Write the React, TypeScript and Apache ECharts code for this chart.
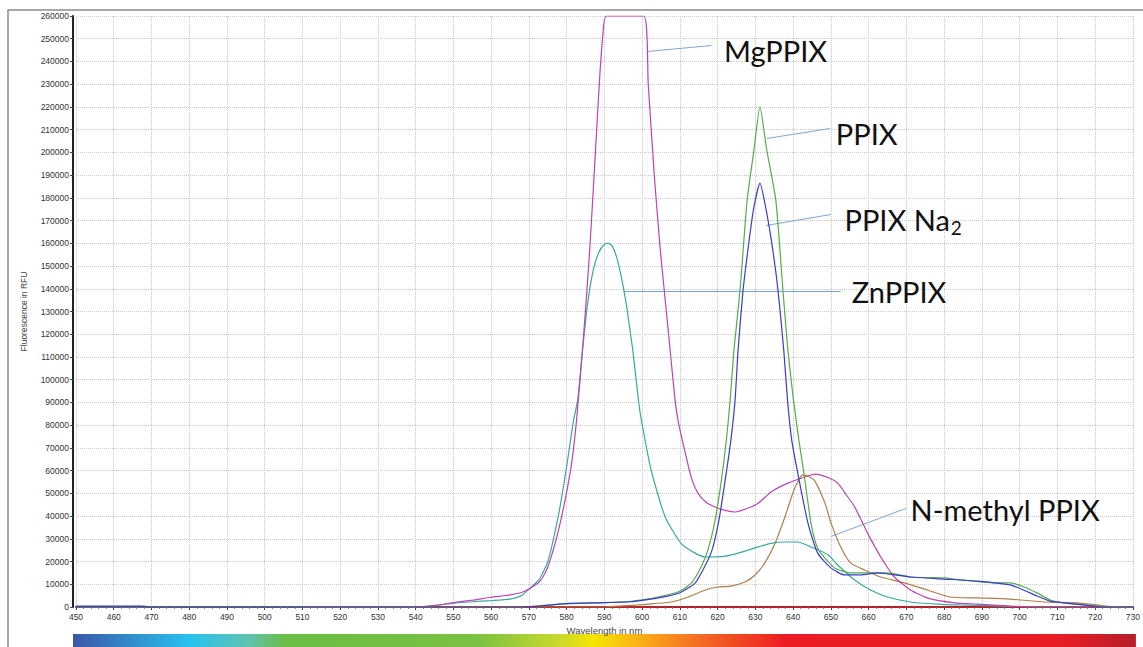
import { useEffect, useRef } from "react";
import * as echarts from "echarts";

// Emission spectra, [wavelength nm, fluorescence RFU]
const mgPPIX: [number, number][] = [
  [450, 0], [540, 0], [545, 600], [550, 1900], [555, 3000], [560, 4300], [565, 5300], [568, 6400],
  [570, 7900], [573, 11500], [575, 17600], [578, 35000], [581, 60000], [582.6, 82000], [584.5, 120000],
  [586.1, 157000], [587.6, 200000], [588.7, 232000], [589.6, 252000], [590.5, 260000], [600.4, 260000],
  [601.6, 230000], [603.2, 190000], [604.8, 157000], [606.7, 125000], [608.7, 91000], [609.5, 82000],
  [611.4, 67800], [613, 57000], [614.8, 50000], [617, 46000], [619.3, 44000], [622, 42500], [624.6, 41800],
  [628.8, 44000], [631, 46000], [634.1, 50600], [638.6, 54500], [643.1, 57200], [645.7, 58500],
  [649.2, 57000], [651.8, 54500], [654, 49500], [656.3, 44000], [659.7, 32500], [663.2, 22000],
  [666.8, 13200], [671.1, 7500], [675.5, 4000], [682.7, 1800], [688.8, 1300], [697.5, 400], [705, 0], [730, 0],
];

const znPPIX: [number, number][] = [
  [450, 0], [540, 0], [545, 700], [550, 1700], [555, 2300], [560, 2800], [565, 3500], [568, 5000],
  [570, 7900], [572.6, 11900], [575, 20000], [578, 42000], [580, 62000], [581.8, 82000], [582.9, 91000],
  [584.2, 113000], [585.5, 133000], [587, 148000], [588.5, 156000], [590, 159600], [591, 160000],
  [592, 159000], [593.2, 154000], [594.5, 145000], [595.8, 133000], [597.5, 113000], [599, 91000],
  [599.8, 82000], [602.4, 60000], [606.1, 39600], [610.3, 28000], [614, 23700], [616.7, 22000], [622, 22400],
  [625.4, 23700], [629.9, 26000], [634.1, 28000], [637.8, 28600], [641.2, 28600], [644.7, 26400],
  [649.2, 23000], [651.8, 18500], [656.3, 11900], [660.5, 7500], [665, 4400], [671, 2200], [678.2, 1300],
  [684.3, 900], [693, 500], [705, 0], [730, 0],
];

const ppix: [number, number][] = [
  [450, 0], [568, 0], [575, 800], [580, 1500], [590, 1900], [597, 2500], [600, 3100], [604.2, 4400],
  [609.5, 6600], [613, 10500], [615.6, 17600], [617.4, 25000], [619.3, 38000], [621, 56000], [622.3, 73500],
  [623.3, 91000], [624.3, 113000], [625.9, 139000], [627.8, 179000], [629.6, 201000], [631.2, 220000],
  [633, 201000], [635.4, 179000], [637.3, 139000], [638.6, 113000], [640, 92000], [641.5, 73500], [643, 57000],
  [644.7, 37000], [646, 28000], [647.3, 23700], [651, 17200], [655.2, 15000], [662.4, 15000], [665, 15000],
  [671.1, 13200], [680, 12800], [684.3, 11900], [693.3, 10600], [697.5, 10600], [701.2, 8800], [704.6, 6200],
  [708.1, 3100], [711.7, 1800], [717, 900], [725, 0], [730, 0],
];

const ppixNa2: [number, number][] = [
  [450, 400], [468, 400], [469, 0], [568, 0], [575, 800], [580, 1500], [590, 1900], [597, 2300], [600, 2900],
  [605, 4200], [610, 6300], [614, 10500], [616.5, 17600], [618.5, 25000], [620.3, 38000], [622, 56000],
  [623.5, 73500], [624.6, 91000], [625.4, 113000], [626.7, 139000], [628, 157000], [629.5, 175000],
  [631.2, 186500], [632.8, 175000], [634.6, 157000], [636, 139000], [637.5, 113000], [638.5, 91000],
  [639.6, 73500], [641.2, 59000], [643.9, 37000], [646.5, 23700], [650, 17200], [653.6, 14100],
  [657.9, 14100], [662.4, 15000], [671, 13200], [680, 12300], [688.8, 11400], [697.5, 9700], [701, 7500],
  [704.6, 4800], [708, 2600], [711.7, 1800], [717, 900], [722, 0], [730, 0],
];

const nMethylPPIX: [number, number][] = [
  [450, 0], [590, 0], [595, 500], [599, 900], [603, 1500], [607.7, 2200], [612.2, 4400], [616.7, 7500],
  [620.1, 8800], [623.5, 9200], [627.2, 11000], [629.9, 14100], [632.5, 19400], [635.2, 28000],
  [637.8, 39600], [640, 50600], [641.5, 56000], [642.5, 58000], [644, 57500], [645.7, 55500],
  [648.4, 45800], [650, 37000], [652.6, 26400], [655.2, 19400], [658.9, 16300], [663.2, 13200],
  [669.5, 10600], [675.5, 7500], [681.6, 4400], [688.8, 4000], [697.5, 3500], [706.5, 2200],
  [715.2, 1800], [720.5, 900], [726, 0], [730, 0],
];

const blank: [number, number][] = [[510, 0], [730, 0]];

// Callouts: leader line from a point on the curve to the label, label anchored at its left-middle
const callouts = [
  { text: "MgPPIX", sub: "", from: [601.3, 244600], to: [618.3, 247300], at: [621.7, 245000] },
  { text: "PPIX", sub: "", from: [633.0, 206400], to: [649.7, 210800], at: [651.3, 208100] },
  { text: "PPIX Na", sub: "2", from: [632.8, 168100], to: [650.0, 172900], at: [653.6, 170600] },
  { text: "ZnPPIX", sub: "", from: [595.0, 139000], to: [652.6, 139000], at: [655.5, 138600] },
  { text: "N-methyl PPIX", sub: "", from: [650.0, 31200], to: [669.8, 43600], at: [671.1, 42700] },
];

// Visible spectrum colour bar under the wavelength axis
const spectrumStops = [
  { offset: 0, color: "#3b57a7" },
  { offset: 0.11, color: "#27c3ef" },
  { offset: 0.165, color: "#5fc3b0" },
  { offset: 0.2, color: "#6abd45" },
  { offset: 0.38, color: "#7ac143" },
  { offset: 0.456, color: "#c8d92e" },
  { offset: 0.49, color: "#f6e500" },
  { offset: 0.53, color: "#fbb316" },
  { offset: 0.59, color: "#f26b22" },
  { offset: 0.67, color: "#ed1c24" },
  { offset: 0.93, color: "#e81c24" },
  { offset: 1, color: "#b51f2a" },
];

const LABEL_FONT = "Lato";
const LABEL_SIZE = 29;

function lineSeries(name: string, data: [number, number][], color: string, width = 1.2, clip = true) {
  return {
    name,
    type: "line",
    data,
    showSymbol: false,
    symbol: "none",
    smooth: 0.2,
    clip,
    lineStyle: { color, width },
    emphasis: { disabled: true },
  };
}

const crisp = (v: number) => Math.round(v) + 0.5;

export default function App() {
  const ref = useRef<HTMLDivElement>(null);

  useEffect(() => {
    const chart = echarts.init(ref.current!, null, { renderer: "svg" });
    const axisText = { fontFamily: "Liberation Sans", fontSize: 8.5, color: "#333" };
    chart.setOption({
      animation: false,
      backgroundColor: "#fff",
      grid: { left: 76, right: 6, top: 16, bottom: 40, containLabel: false },
      xAxis: {
        type: "value",
        min: 450,
        max: 730,
        interval: 10,
        name: "Wavelength in nm",
        nameLocation: "middle",
        nameGap: 16,
        nameTextStyle: { fontFamily: "Liberation Sans", fontSize: 9.5, color: "#444" },
        axisLine: { onZero: false, lineStyle: { color: "#222", width: 2 } },
        axisTick: { show: true, length: 3, lineStyle: { color: "#444" } },
        minorTick: { show: true, splitNumber: 5, length: 2, lineStyle: { color: "#888" } },
        axisLabel: { ...axisText, margin: 5, showMaxLabel: true, alignMaxLabel: "center" },
        splitLine: { show: true, lineStyle: { color: "#c8c8c8", type: "dotted", width: 1 } },
      },
      yAxis: {
        type: "value",
        min: 0,
        max: 260000,
        interval: 10000,
        offset: 3,
        name: "Fluorescence in RFU",
        nameLocation: "middle",
        nameRotate: 90,
        nameGap: 45,
        nameTextStyle: { fontFamily: "Liberation Sans", fontSize: 8.5, color: "#444" },
        axisLine: { show: true, lineStyle: { color: "#222", width: 2 } },
        axisTick: { show: true, length: 3, lineStyle: { color: "#444" } },
        axisLabel: { ...axisText, margin: 4, formatter: (v: number) => String(v) },
        splitLine: { show: true, lineStyle: { color: "#c8c8c8", type: "dotted", width: 1 } },
      },
      series: [
        lineSeries("blank", blank, "#e0242a", 1.5, false),
        lineSeries("N-methyl PPIX", nMethylPPIX, "#b07d4d"),
        lineSeries("ZnPPIX", znPPIX, "#3aa9a0"),
        lineSeries("MgPPIX", mgPPIX, "#bb45b0"),
        lineSeries("PPIX", ppix, "#55ad4a"),
        lineSeries("PPIX Na2", ppixNa2, "#3b3bd0"),
      ],
    });

    const toPx = (p: number[]) => chart.convertToPixel({ gridIndex: 0 }, p) as number[];
    const ctx = document.createElement("canvas").getContext("2d")!;
    ctx.font = `${LABEL_SIZE}px ${LABEL_FONT}`;

    const x0 = toPx([450, 0]);
    const x1 = toPx([730, 0]);
    const graphic: any[] = [
      {
        type: "rect",
        silent: true,
        shape: { x: x0[0] - 3, y: 634, width: x1[0] - x0[0] + 6, height: 14 },
        style: { fill: { type: "linear", x: 0, y: 0, x2: 1, y2: 0, colorStops: spectrumStops } },
      },
      {
        type: "rect",
        silent: true,
        shape: { x: 8, y: 10, width: 1300, height: 800 },
        style: { fill: "none", stroke: "#8c8c8c", lineWidth: 1.5 },
      },
    ];

    callouts.forEach((c) => {
      const a = toPx(c.from);
      const b = toPx(c.to);
      const t = toPx(c.at);
      graphic.push({
        type: "line",
        silent: true,
        shape: { x1: a[0], y1: crisp(a[1]), x2: b[0], y2: crisp(b[1]) },
        style: { stroke: "#7aa7d6", lineWidth: 1 },
      });
      graphic.push({
        type: "text",
        silent: true,
        style: {
          text: c.text,
          x: t[0],
          y: t[1],
          fontFamily: LABEL_FONT,
          fontSize: LABEL_SIZE,
          fill: "#111",
          align: "left",
          verticalAlign: "middle",
        },
      });
      if (c.sub) {
        const w = ctx.measureText(c.text).width;
        graphic.push({
          type: "text",
          silent: true,
          style: {
            text: c.sub,
            x: t[0] + w + 1,
            y: t[1] + 8,
            fontFamily: LABEL_FONT,
            fontSize: 19,
            fill: "#111",
            align: "left",
            verticalAlign: "middle",
          },
        });
      }
    });

    chart.setOption({ graphic });
    return () => chart.dispose();
  }, []);

  return (
    <div
      ref={ref}
      style={{ position: "fixed", left: 0, top: 0, width: 1143, height: 647, background: "#fff" }}
    />
  );
}
